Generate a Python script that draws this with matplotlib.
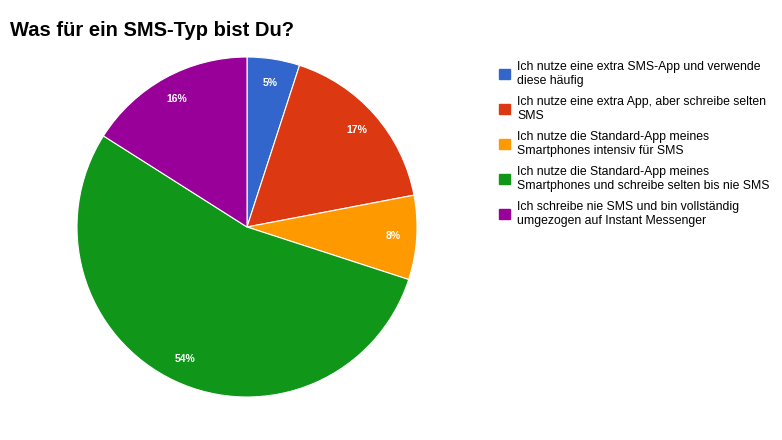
import matplotlib
matplotlib.use("Agg")
import matplotlib.pyplot as plt
from matplotlib.patches import Patch

title = "Was für ein SMS-Typ bist Du?"
labels = [
    "Ich nutze eine extra SMS-App und verwende\ndiese häufig",
    "Ich nutze eine extra App, aber schreibe selten\nSMS",
    "Ich nutze die Standard-App meines\nSmartphones intensiv für SMS",
    "Ich nutze die Standard-App meines\nSmartphones und schreibe selten bis nie SMS",
    "Ich schreibe nie SMS und bin vollständig\numgezogen auf Instant Messenger",
]
values = [5, 17, 8, 54, 16]
colors = ["#3366cc", "#dc3912", "#ff9900", "#109618", "#990099"]

fig = plt.figure(figsize=(7.82, 4.4), dpi=100)
ax = fig.add_axes([(247 - 170) / 782, (440 - 227 - 170) / 440, 340 / 782, 340 / 440])
wedges, texts, autotexts = ax.pie(
    values, colors=colors, startangle=90, counterclock=False,
    autopct="%d%%", pctdistance=0.86,
    wedgeprops=dict(edgecolor="white", linewidth=0.8),
    textprops=dict(color="white", fontsize=7.5, fontweight="bold", family="Liberation Sans"),
)
ax.set_xlim(-1, 1)
ax.set_ylim(-1, 1)
ax.set_aspect("equal")

fig.text(10 / 782, 1 - 31 / 440, title, fontsize=14.5, fontweight="bold",
         family="Liberation Sans", va="center")

handles = [Patch(facecolor=c, edgecolor=c) for c in colors]
fig.legend(handles, labels, loc="upper left", bbox_to_anchor=(494 / 782, 1 - 56 / 440),
           frameon=False, prop=dict(family="Liberation Sans", size=8.8),
           handlelength=0.9, handleheight=0.9, handletextpad=0.6, labelspacing=0.75,
           borderaxespad=0)

fig.savefig("out.png", dpi=100, facecolor="white")
